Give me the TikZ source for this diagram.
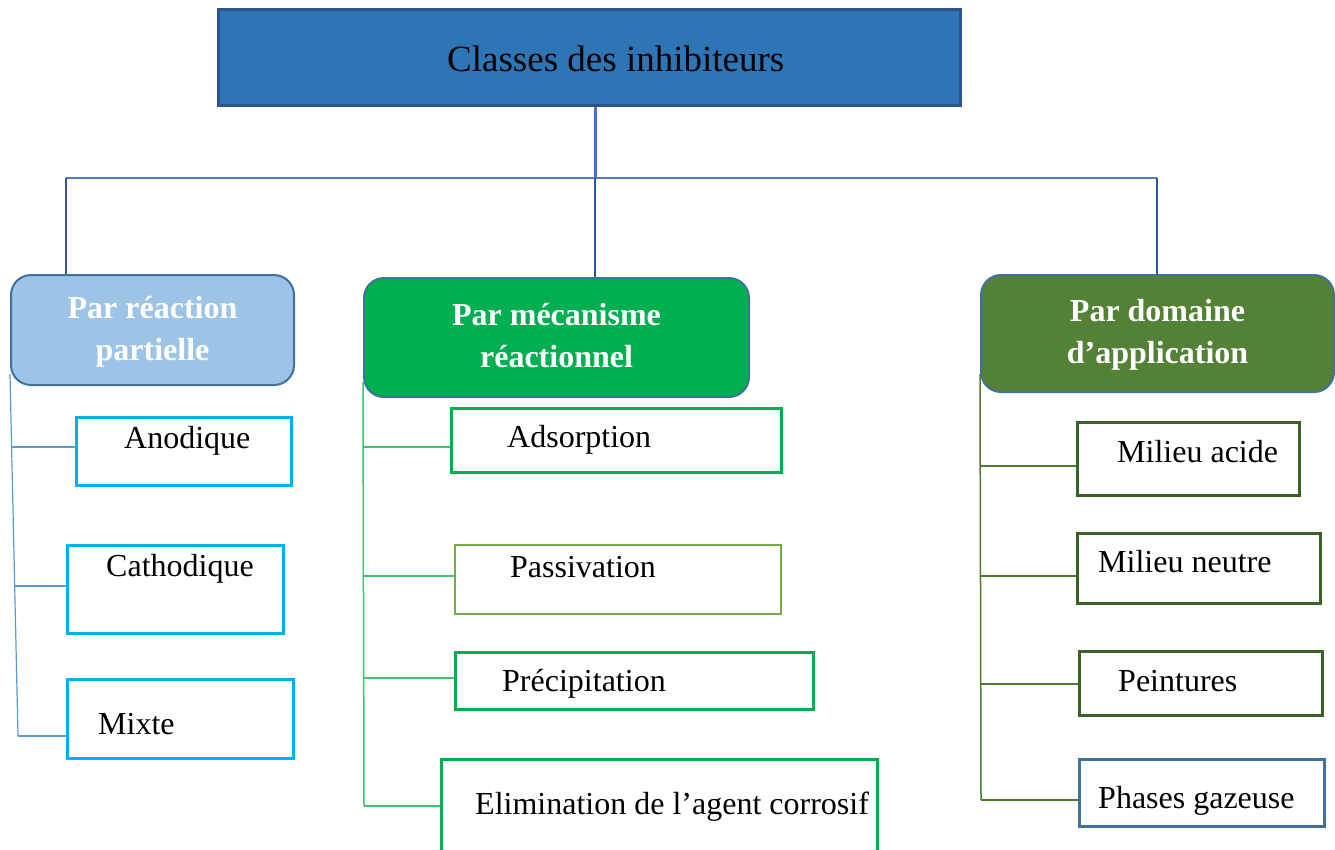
\documentclass[tikz,border=0pt]{standalone}
\usepackage{fontspec}
\setmainfont{Liberation Serif}
\usepackage{xcolor}
\usepackage{tikz}

\definecolor{topblue}{HTML}{2E75B6}
\definecolor{topedge}{HTML}{2F528F}
\definecolor{headedge}{HTML}{41719C}
\definecolor{paleblue}{HTML}{9DC3E6}
\definecolor{brightgreen}{HTML}{00B050}
\definecolor{olivegreen}{HTML}{538135}
\definecolor{cyanedge}{HTML}{00B0F0}
\definecolor{lightgreen}{HTML}{70AD47}
\definecolor{darkolive}{HTML}{3B6126}

\begin{document}
\begin{tikzpicture}[x=1pt, y=-1pt,
topbox/.style={draw=topedge, fill=topblue, line width=2.5pt, inner sep=0pt, anchor=north west},
headbox/.style={rounded corners=20pt, draw=headedge, line width=2pt, text=white, align=center, inner sep=0pt, anchor=north west, font=\fontsize{32}{42}\selectfont\bfseries},
leafbox/.style={fill=white, inner sep=0pt, anchor=north west},
leaftext/.style={anchor=base west, inner sep=0pt, font=\fontsize{32}{36}\selectfont},
stem/.style={draw={rgb,255:red,68;green,114;blue,196}, line width=3pt},
bus/.style={draw={rgb,255:red,84;green,125;blue,178}, line width=1.5pt},
drop/.style={draw={rgb,255:red,47;green,85;blue,151}, line width=1.2pt},
lefttree/.style={draw={rgb,255:red,91;green,155;blue,213}, line width=1.2pt},
midtree/.style={draw={rgb,255:red,60;green,196;blue,110}, line width=1.5pt},
righttree/.style={draw={rgb,255:red,78;green,122;blue,46}, line width=1.5pt},
]
\clip (0,0) rectangle (1335,849);
\fill[white] (0,0) rectangle (1335,849);

%Nodes
\node[topbox, minimum width=742pt, minimum height=96pt] (classes) at (217,8) {};
\node[anchor=base west, inner sep=0pt, font=\fontsize{37}{42}\selectfont] (classes_txt) at (447,71) {Classes des inhibiteurs};

\node[headbox, fill=paleblue, minimum width=283pt, minimum height=110pt, text depth=4pt] (partielle) at (10,274) {Par réaction\\partielle};
\node[headbox, fill=brightgreen, minimum width=385pt, minimum height=119pt, text depth=4pt] (mecanisme) at (363,277) {Par mécanisme\\réactionnel};
\node[headbox, fill=olivegreen, minimum width=353pt, minimum height=117pt, text depth=4pt] (domaine) at (980,274) {Par domaine\\d’application};

\node[leafbox, draw=cyanedge, line width=3pt, minimum width=215pt, minimum height=68pt] (anodique) at (75,416) {};
\node[leafbox, draw=cyanedge, line width=3pt, minimum width=216pt, minimum height=88pt] (cathodique) at (66,544) {};
\node[leafbox, draw=cyanedge, line width=3pt, minimum width=226pt, minimum height=79pt] (mixte) at (66,678) {};
\node[leaftext] (anodique_txt) at (124,448) {Anodique};
\node[leaftext] (cathodique_txt) at (106,576) {Cathodique};
\node[leaftext] (mixte_txt) at (98,734) {Mixte};

\node[leafbox, draw=brightgreen, line width=2.5pt, minimum width=330pt, minimum height=64pt] (adsorption) at (450,407) {};
\node[leafbox, draw=lightgreen, line width=2pt, minimum width=326pt, minimum height=69pt] (passivation) at (454,544) {};
\node[leafbox, draw=brightgreen, line width=2.5pt, minimum width=358pt, minimum height=57pt] (precipitation) at (454,651) {};
\node[leafbox, draw=brightgreen, line width=2.5pt, minimum width=436pt, minimum height=110pt] (elimination) at (440,758) {};
\node[leaftext] (adsorption_txt) at (507,447) {Adsorption};
\node[leaftext] (passivation_txt) at (510,577) {Passivation};
\node[leaftext] (precipitation_txt) at (502,691) {Précipitation};
\node[leaftext] (elimination_txt) at (475,814) {Elimination de l’agent corrosif};

\node[leafbox, draw=darkolive, line width=2.5pt, minimum width=222pt, minimum height=73pt] (acide) at (1076,421) {};
\node[leafbox, draw=darkolive, line width=2.5pt, minimum width=243pt, minimum height=70pt] (neutre) at (1076,532) {};
\node[leafbox, draw=darkolive, line width=2.5pt, minimum width=243pt, minimum height=64pt] (peintures) at (1078,650) {};
\node[leafbox, draw=headedge, line width=2.5pt, minimum width=245pt, minimum height=67pt] (gazeuse) at (1078,758) {};
\node[leaftext] (acide_txt) at (1117,462) {Milieu acide};
\node[leaftext] (neutre_txt) at (1098,572) {Milieu neutre};
\node[leaftext] (peintures_txt) at (1118,691) {Peintures};
\node[leaftext] (gazeuse_txt) at (1098,808) {Phases gazeuse};

%Lines
\coordinate (busl) at (66,178);
\coordinate (busm) at (595,178);
\coordinate (busr) at (1157,178);
\draw[stem] (busm |- classes.south) -- (busm);
\draw[bus] (busl) -- (busr);
\draw[drop] (busl) -- (busl |- partielle.north);
\draw[drop] (busm) -- (busm |- mecanisme.north);
\draw[drop] (busr) -- (busr |- domaine.north);

\coordinate (lb1) at (11.6,447);
\coordinate (lb2) at (14.7,586);
\coordinate (lb3) at (18,736);
\draw[lefttree] ([yshift=12pt]partielle.south west) -- (lb3);
\draw[lefttree] (lb1) -- (lb1 -| anodique.west);
\draw[lefttree] (lb2) -- (lb2 -| cathodique.west);
\draw[lefttree] (lb3) -- (lb3 -| mixte.west);

\coordinate (mb1) at (364,447);
\coordinate (mb2) at (364,576);
\coordinate (mb3) at (364,678);
\coordinate (mb4) at (364,806);
\draw[midtree] ([yshift=16pt]mecanisme.south west) -- (mb4);
\draw[midtree] (mb1) -- (mb1 -| adsorption.west);
\draw[midtree] (mb2) -- (mb2 -| passivation.west);
\draw[midtree] (mb3) -- (mb3 -| precipitation.west);
\draw[midtree] (mb4) -- (mb4 -| elimination.west);

\coordinate (rb1) at (981,466);
\coordinate (rb2) at (981,576);
\coordinate (rb3) at (981,684);
\coordinate (rb4) at (981,800);
\draw[righttree] ([yshift=19pt]domaine.south west) -- (rb4);
\draw[righttree] (rb1) -- (rb1 -| acide.west);
\draw[righttree] (rb2) -- (rb2 -| neutre.west);
\draw[righttree] (rb3) -- (rb3 -| peintures.west);
\draw[righttree] (rb4) -- (rb4 -| gazeuse.west);

\end{tikzpicture}
\end{document}
